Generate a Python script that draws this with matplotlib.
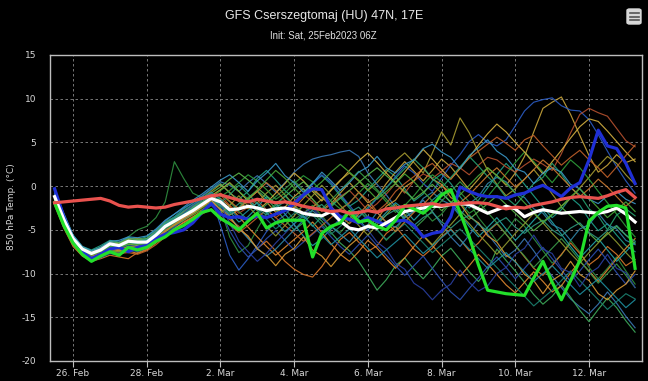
import matplotlib
matplotlib.use("Agg")
import matplotlib.pyplot as plt
from matplotlib.patches import FancyBboxPatch
import pandas as pd

# ---------------- data ----------------
title = "GFS Cserszegtomaj (HU) 47N, 17E"
subtitle = "Init: Sat, 25Feb2023 06Z"
ylabel = "850 hPa Temp. (°C)"
times = pd.date_range("2023-02-25 12:00", periods=64, freq="6h")
xtick_dates = pd.date_range("2023-02-26", "2023-03-12", freq="2D")
xtick_labels = ["26. Feb", "28. Feb", "2. Mar", "4. Mar", "6. Mar", "8. Mar", "10. Mar", "12. Mar"]
yticks = [-20, -15, -10, -5, 0, 5, 10, 15]

climate = [-1.9, -1.8, -1.7, -1.6, -1.5, -1.4, -1.7, -2.2, -2.4, -2.3, -2.4, -2.5, -2.4, -2.1, -1.9, -1.7,
           -1.4, -1.1, -1.0, -1.3, -1.6, -1.8, -1.5, -1.7, -1.9, -1.8, -2.0, -2.3, -2.5, -2.7, -2.9, -2.8,
           -3.1, -3.0, -2.8, -3.0, -2.6, -2.5, -2.3, -2.2, -2.1, -2.0, -2.2, -2.1, -2.0, -1.9, -1.9, -2.0,
           -2.3, -2.6, -2.4, -2.5, -2.2, -2.0, -1.8, -1.5, -1.3, -1.2, -1.3, -1.4, -1.1, -0.7, -0.4, -1.3]

ens_mean = [-1.2, -3.8, -6.0, -7.2, -7.7, -7.3, -6.6, -6.8, -6.3, -6.4, -6.4, -5.6, -4.6, -4.0, -3.4, -2.8,
            -2.1, -1.4, -1.8, -2.7, -2.6, -2.3, -2.5, -2.8, -2.6, -2.5, -2.7, -3.1, -3.3, -3.4, -2.9, -4.0,
            -4.8, -5.0, -4.6, -4.8, -4.2, -3.6, -2.9, -2.7, -2.5, -2.3, -2.3, -2.1, -2.0, -2.1, -2.6, -3.1,
            -2.7, -2.3, -2.6, -3.5, -3.0, -2.7, -2.9, -3.1, -3.0, -2.9, -3.0, -3.1, -2.9, -2.5, -3.2, -4.1]

control = [-1.9, -4.5, -6.5, -7.8, -8.6, -8.0, -7.5, -7.9, -7.0, -7.3, -7.0, -6.3, -5.8, -5.0, -4.5, -3.8,
           -3.0, -2.7, -3.7, -4.3, -5.0, -4.0, -3.1, -4.8, -4.2, -3.9, -3.9, -3.9, -8.1, -5.4, -4.6, -4.2,
           -2.9, -4.1, -3.9, -4.6, -5.0, -3.9, -2.2, -2.6, -3.1, -2.2, -1.0, -0.4, -3.0, -5.8, -9.0, -11.9,
           -12.1, -12.3, -12.4, -12.5, -10.5, -8.6, -11.0, -13.0, -10.8, -8.5, -4.0, -3.0, -2.3, -2.2, -2.5, -9.4]

operational = [-0.3, -3.5, -6.2, -7.5, -8.3, -7.8, -7.2, -7.0, -7.5, -7.0, -6.8, -6.0, -5.5, -5.3, -5.0, -4.2,
               -3.0, -2.0, -3.2, -3.6, -3.5, -3.8, -3.4, -3.6, -3.2, -2.8, -2.0, -1.0, -0.3, -0.4, -2.5, -3.5,
               -3.8, -4.2, -3.6, -4.0, -4.5, -4.0, -3.9, -4.5, -5.8, -5.4, -5.2, -3.5, -0.1, -0.6, -1.0, -1.2,
               -1.2, -1.4, -1.0, -0.8, -0.3, 0.1, -0.5, -1.2, -0.2, 0.4, 3.0, 6.4, 4.6, 4.3, 2.6, 0.3]

member_01 = [-1.4, -4.0, -6.2, -7.3, -7.8, -7.2, -6.9, -6.5, -5.8, -5.0, -4.6, -3.6, -1.8, 2.8, 0.9, -0.8,
             -1.3, -0.9, -2.5, -5.8, -7.6, -6.8, -4.9, -3.1, -2.0, -2.6, -3.8, -3.1, -2.2, -3.4, -4.6, -5.3,
             -4.1, -2.9, -3.6, -5.0, -6.2, -5.1, -3.4, -2.1, -2.8, -4.0, -3.2, -1.9, -0.7, -1.8, -3.6, -4.9,
             -6.3, -5.2, -3.7, -4.6, -6.0, -7.4, -8.8, -7.9, -6.2, -7.5, -9.3, -10.6, -9.4, -8.1, -9.7, -11.2]
member_02 = [-0.8, -3.2, -5.6, -6.9, -7.3, -6.8, -6.2, -6.4, -5.9, -6.1, -5.8, -5.0, -4.1, -3.5, -2.6, -1.9,
             -1.2, -0.4, 0.3, -0.8, -1.5, -0.6, 0.9, 1.8, 0.7, -0.5, -1.4, -0.9, 0.4, 1.2, 0.2, -1.1,
             -2.3, -1.6, -0.4, 0.8, 1.9, 1.1, -0.3, -1.7, -0.9, 0.6, 1.4, 0.3, -1.2, -2.5, -1.6, -0.2,
             1.3, 2.6, 1.5, 0.2, -1.1, -2.4, -3.6, -2.7, -1.3, -2.2, -3.8, -5.1, -4.3, -5.6, -6.8, -7.5]
member_03 = [-1.6, -4.1, -6.4, -7.6, -8.1, -7.7, -7.1, -7.3, -6.9, -7.2, -6.8, -6.1, -5.0, -4.5, -3.9, -3.1,
             -2.4, -1.8, -2.6, -3.3, -2.7, -1.5, -0.6, -1.8, -3.0, -2.4, -1.2, -0.3, -1.5, -2.7, -2.0, -0.8,
             0.4, -0.7, -1.9, -1.2, 0.3, 1.6, 2.8, 1.7, 0.6, 1.8, 3.1, 2.2, 0.9, -0.4, 0.8, 2.1,
             1.2, 0.1, 1.5, 3.4, 6.2, 8.9, 9.6, 10.2, 8.2, 5.8, 3.5, 1.6, 2.4, 3.6, 2.7, 3.1]
member_04 = [-0.5, -3.4, -6.1, -7.7, -8.4, -8.0, -7.4, -7.6, -7.0, -6.8, -6.5, -5.8, -5.1, -4.3, -3.6, -2.7,
             -1.8, -1.2, -4.5, -7.9, -9.6, -8.3, -6.8, -5.2, -4.1, -3.3, -2.1, -1.0, 0.2, 1.3, 0.4, -0.9,
             -2.2, -3.5, -2.6, -1.4, -0.2, 1.1, 2.3, 1.5, 0.3, -0.6, 0.9, 2.4, 3.6, 5.1, 5.9, 5.0,
             4.6, 5.3, 6.9, 8.6, 9.6, 9.9, 10.1, 9.2, 8.7, 8.6, 7.6, 5.9, 4.0, 2.2, 0.6, -0.8]
member_05 = [-2.2, -4.8, -6.9, -8.0, -8.6, -8.3, -7.9, -8.1, -8.3, -7.6, -7.2, -6.4, -5.5, -4.9, -4.1, -3.5,
             -2.9, -2.2, -3.0, -3.8, -4.6, -5.9, -7.1, -6.3, -7.4, -8.6, -9.5, -10.1, -10.4, -9.2, -7.6, -6.1,
             -5.3, -6.4, -7.5, -6.8, -5.4, -4.6, -5.9, -7.2, -8.0, -7.1, -5.8, -4.9, -6.1, -7.4, -6.5, -5.2,
             -4.3, -5.5, -6.8, -8.1, -9.4, -10.2, -9.1, -7.8, -6.5, -7.7, -9.0, -8.2, -6.9, -7.8, -9.1, -8.4]
member_06 = [-1.3, -3.9, -6.1, -7.1, -7.6, -7.0, -6.5, -6.9, -6.2, -6.6, -6.9, -6.0, -4.9, -4.2, -3.3, -2.6,
             -1.9, -1.3, -1.0, -2.2, -3.1, -2.4, -1.6, -2.7, -3.6, -2.8, -1.7, -0.9, -1.8, -2.9, -2.1, -1.2,
             -0.5, -1.6, -2.8, -2.0, -0.9, 0.3, -0.8, 0.6, 1.4, 0.9, 1.7, 2.6, 2.1, 1.3, 2.4, 3.3,
             3.0, 2.2, 1.6, 2.4, 3.1, 2.5, 1.8, 3.7, 6.1, 8.2, 8.9, 8.4, 8.0, 6.6, 5.2, 4.5]
member_07 = [-1.0, -3.6, -5.8, -7.0, -7.5, -7.2, -6.4, -6.6, -6.1, -6.0, -6.2, -5.3, -4.3, -3.7, -2.9, -2.2,
             -1.4, -0.6, 0.2, -0.7, -1.8, -2.6, -1.9, -0.8, 0.1, -1.0, -2.2, -3.1, -2.4, -1.5, -0.4, 0.7,
             1.5, 0.6, -0.5, 0.4, 1.6, 2.9, 3.8, 2.7, 1.5, 3.8, 6.2, 4.7, 7.8, 6.1, 3.9, 1.8,
             0.2, -1.1, -0.3, 0.8, 1.9, 0.6, -0.9, -2.3, -1.4, -0.2, 1.0, 2.3, 3.4, 2.6, 1.3, 0.2]
member_08 = [-0.6, -3.3, -5.7, -7.1, -7.6, -7.1, -6.5, -6.4, -5.9, -6.2, -6.0, -5.1, -4.0, -3.2, -2.5, -1.9,
             -1.1, -0.3, 0.5, 0.1, -0.6, 0.4, 1.2, 0.3, -0.7, 0.4, 1.6, 2.5, 3.1, 3.4, 3.6, 3.9,
             4.1, 3.4, 1.5, 0.2, -1.0, -2.4, -3.6, -2.8, -1.6, -2.9, -4.4, -5.8, -6.9, -5.6, -4.2, -5.5,
             -6.8, -8.1, -7.3, -6.0, -7.4, -8.9, -10.3, -11.6, -12.9, -13.8, -14.6, -13.5, -12.1, -13.4, -14.9, -16.2]
member_09 = [-1.8, -4.4, -6.6, -7.6, -8.0, -7.6, -7.0, -7.2, -6.7, -6.9, -6.7, -5.9, -4.8, -4.1, -3.3, -2.6,
             -2.0, -1.5, -2.3, -3.1, -2.4, -1.3, -0.5, -1.4, -2.6, -3.9, -5.0, -4.2, -3.1, -4.0, -5.3, -6.5,
             -7.4, -8.6, -10.2, -11.9, -10.7, -9.1, -8.2, -9.5, -10.6, -9.4, -8.0, -7.1, -8.4, -9.8, -10.9, -9.6,
             -7.2, -8.5, -9.7, -11.0, -12.4, -13.5, -12.6, -11.3, -12.7, -14.2, -15.5, -14.1, -12.8, -13.9, -15.4, -16.7]
member_10 = [-1.1, -3.7, -6.0, -7.3, -7.9, -7.4, -6.8, -6.7, -6.4, -6.3, -6.1, -5.4, -4.4, -3.8, -3.1, -2.4,
             -1.6, -1.0, -1.7, -2.9, -4.1, -3.5, -2.4, -1.2, -2.0, -3.2, -4.4, -5.7, -6.8, -6.0, -4.9, -3.7,
             -2.9, -3.8, -5.0, -4.1, -3.0, -1.9, -2.7, -3.9, -2.8, -1.6, -0.7, -1.9, -3.2, -4.6, -5.8, -4.7,
             -3.6, -4.9, -6.2, -5.1, -3.9, -2.8, -4.1, -5.5, -6.9, -8.2, -7.1, -6.0, -7.3, -8.6, -7.5, -6.4]
member_11 = [-1.5, -4.0, -6.3, -7.5, -8.2, -7.8, -7.3, -7.5, -7.0, -7.1, -6.9, -6.2, -5.3, -4.6, -3.8, -3.2,
             -2.5, -1.9, -1.2, -0.5, 0.4, 1.3, 0.6, -0.4, -1.5, -0.8, 0.3, 1.2, 0.5, -0.6, -1.7, -2.6,
             -1.9, -0.8, 0.3, -0.6, -1.8, -3.0, -2.2, -1.1, 0.2, 1.3, 0.5, -0.6, -1.9, -3.1, -2.4, -1.2,
             0.1, 1.4, 2.7, 3.9, 2.8, 1.6, 0.4, 1.7, 3.0, 2.1, 0.8, -0.6, -1.9, -3.2, -4.6, -5.8]
member_12 = [-1.9, -4.5, -6.7, -7.7, -8.3, -7.9, -7.6, -7.8, -7.4, -7.7, -7.3, -6.5, -5.6, -4.8, -4.2, -3.6,
             -2.8, -2.1, -1.4, -2.3, -3.5, -4.7, -5.8, -6.9, -7.9, -7.0, -6.1, -5.2, -4.1, -5.3, -6.6, -7.8,
             -8.6, -7.5, -6.2, -7.1, -8.3, -9.4, -8.2, -6.9, -5.7, -6.8, -8.0, -9.2, -10.3, -9.1, -7.8, -8.9,
             -10.1, -11.3, -12.2, -11.0, -9.8, -10.9, -12.1, -11.4, -9.9, -8.6, -9.7, -10.9, -9.6, -8.3, -7.1, -6.0]
member_13 = [-0.9, -3.6, -6.2, -7.8, -8.6, -8.2, -7.7, -7.9, -7.3, -7.5, -7.1, -6.4, -5.5, -4.7, -3.9, -3.0,
             -2.2, -1.4, -2.8, -5.1, -6.9, -8.1, -7.2, -6.0, -5.1, -6.2, -7.3, -6.4, -5.5, -4.6, -5.8, -6.9,
             -7.8, -6.7, -5.6, -6.8, -7.9, -9.1, -10.2, -9.1, -8.0, -9.4, -10.8, -12.1, -13.0, -11.7, -10.5, -9.2,
             -8.1, -9.3, -10.6, -9.4, -8.2, -7.0, -8.3, -9.6, -10.9, -9.7, -8.4, -7.2, -8.5, -9.9, -11.2, -10.1]
member_14 = [-1.3, -3.9, -6.1, -7.2, -7.8, -7.5, -6.8, -7.0, -6.6, -6.8, -6.7, -5.8, -4.7, -4.0, -3.3, -2.5,
             -1.8, -1.1, -0.4, 0.4, -0.6, -1.7, -2.8, -1.9, -0.8, 0.3, 1.5, 0.6, -0.6, -1.7, -0.5, 0.6,
             1.8, 2.9, 3.8, 2.7, 1.5, 0.4, 1.6, 2.9, 4.2, 3.1, 1.9, 0.8, 2.0, 3.3, 4.7, 6.0,
             7.1, 6.2, 5.0, 3.9, 2.6, 1.4, 2.8, 4.1, 5.5, 6.8, 7.7, 7.4, 6.3, 5.1, 3.9, 2.8]
member_15 = [-1.7, -4.3, -6.5, -7.5, -7.9, -7.4, -6.8, -7.1, -6.5, -6.5, -6.6, -5.8, -4.9, -4.3, -3.6, -3.0,
             -2.3, -1.7, -2.4, -3.2, -2.5, -1.6, -2.7, -3.8, -4.9, -4.0, -3.1, -2.2, -3.3, -4.4, -5.5, -4.6,
             -3.7, -2.8, -3.9, -5.0, -6.1, -5.2, -4.3, -5.4, -6.5, -7.6, -6.7, -5.8, -4.9, -6.0, -7.1, -8.2,
             -9.3, -10.4, -11.5, -12.6, -13.7, -12.8, -11.9, -10.8, -9.7, -10.8, -11.9, -13.0, -14.1, -13.2, -12.3, -12.9]
member_16 = [-1.2, -3.7, -5.9, -7.0, -7.4, -7.0, -6.3, -6.5, -6.0, -6.1, -6.0, -5.2, -4.2, -3.6, -3.0, -2.3,
             -1.5, -0.8, -0.1, 0.8, 1.5, 0.7, -0.2, -1.1, -2.0, -1.2, -0.3, 0.5, -0.4, -1.3, -2.2, -1.4,
             -0.5, 0.4, 1.3, 2.1, 1.2, 0.3, -0.6, -1.5, -0.7, 0.2, -0.8, -1.8, -2.8, -3.8, -2.9, -2.0,
             -1.1, -2.1, -3.1, -4.1, -5.1, -4.2, -3.3, -2.4, -3.4, -4.4, -5.4, -6.4, -5.5, -4.6, -5.6, -6.6]
member_17 = [-2.0, -4.6, -6.8, -7.9, -8.5, -8.1, -7.5, -7.7, -7.6, -7.8, -7.4, -6.7, -5.8, -5.0, -4.4, -3.8,
             -3.2, -2.6, -3.5, -4.4, -5.3, -4.5, -3.6, -2.7, -3.6, -4.5, -5.4, -6.3, -5.4, -4.5, -3.6, -2.7,
             -1.9, -0.7, -1.6, -2.9, -2.0, -0.6, 0.3, 1.1, 2.0, 2.6, 1.5, 0.8, 2.1, 3.2, 4.0, 4.8,
             5.6, 4.9, 4.1, 5.3, 5.8, 4.6, 3.5, 2.4, 3.3, 4.1, 3.0, 2.1, 1.0, 2.2, 3.5, 4.7]
member_18 = [-0.7, -3.4, -5.9, -7.2, -7.7, -7.3, -6.7, -6.9, -6.4, -6.6, -6.3, -5.6, -4.6, -3.9, -3.2, -2.6,
             -1.9, -1.3, -2.1, -3.4, -4.8, -6.0, -7.1, -8.0, -7.2, -6.1, -5.0, -3.9, -2.8, -3.7, -4.6, -5.5,
             -6.4, -5.1, -4.4, -3.0, -4.2, -4.7, -3.6, -2.9, -1.4, -0.7, -1.6, -2.1, -3.4, -2.0, -1.2, 0.3,
             1.0, 0.5, -0.8, -1.3, -2.6, -3.1, -4.4, -4.9, -6.2, -4.9, -4.4, -3.1, -4.4, -4.9, -6.2, -6.7]
member_19 = [-1.4, -4.1, -6.4, -7.5, -7.9, -7.3, -6.7, -6.8, -6.2, -6.2, -6.3, -5.5, -4.6, -4.1, -3.6, -2.9,
             -2.1, -1.5, -0.9, -1.8, -2.9, -3.9, -3.0, -2.1, -1.2, -0.3, 0.6, -0.4, -1.5, -2.6, -1.6, -0.5,
             0.6, 1.7, 0.7, -0.4, -1.5, -2.7, -3.8, -4.9, -3.9, -2.8, -1.7, -0.6, 0.5, -0.6, -1.8, -3.0,
             -4.2, -5.5, -6.8, -8.0, -9.3, -8.2, -7.1, -6.0, -7.2, -8.5, -9.8, -11.1, -10.0, -8.9, -10.2, -11.6]
member_20 = [-1.6, -4.3, -6.6, -7.8, -8.2, -7.8, -7.2, -7.4, -7.1, -7.3, -7.0, -6.3, -5.2, -4.4, -3.7, -3.1,
             -2.4, -1.6, -2.7, -3.5, -4.9, -5.7, -7.2, -7.9, -9.1, -7.8, -7.1, -5.8, -7.3, -8.0, -9.2, -7.9,
             -6.8, -5.9, -4.5, -3.8, -2.3, -1.6, -0.1, 0.6, 2.1, 0.8, 0.2, -1.3, -2.0, -3.5, -4.2, -5.7,
             -6.4, -7.9, -8.6, -10.1, -10.8, -12.3, -10.8, -10.1, -8.6, -10.1, -10.8, -12.3, -13.0, -11.9, -11.2, -9.7]
member_21 = [-1.0, -3.7, -6.1, -7.5, -8.1, -7.6, -7.0, -7.2, -6.8, -6.9, -6.5, -5.7, -4.6, -3.9, -3.1, -2.2,
             -1.5, -0.9, -2.1, -4.2, -6.3, -7.5, -8.6, -7.7, -6.5, -5.4, -4.3, -3.1, -2.5, -3.6, -4.7, -3.8,
             -2.9, -4.1, -5.0, -6.4, -7.2, -8.8, -9.5, -11.1, -11.8, -13.0, -11.9, -11.2, -9.6, -11.0, -12.0, -11.4,
             -10.0, -9.3, -7.8, -7.1, -5.6, -7.2, -7.7, -9.4, -9.9, -11.5, -10.0, -9.3, -7.8, -9.4, -9.9, -11.6]
member_22 = [-1.3, -3.9, -6.2, -7.3, -7.7, -7.3, -6.6, -6.8, -6.3, -6.5, -6.3, -5.5, -4.5, -3.8, -3.2, -2.5,
             -1.8, -1.2, -1.9, -1.0, 0.1, -0.9, -2.0, -3.1, -2.2, -1.1, -2.3, -3.4, -4.6, -3.5, -2.4, -1.3,
             -2.5, -3.6, -2.4, -1.3, -0.2, 0.9, 2.0, 3.1, 2.1, 0.9, -0.2, 1.0, 2.2, 3.4, 2.3, 1.1,
             0.1, -1.3, -2.2, -1.0, 0.3, 1.0, 2.6, 1.4, -0.2, -1.0, -2.6, -3.4, -5.0, -3.3, -2.6, -3.4]
member_23 = [-1.8, -4.4, -6.5, -7.6, -8.2, -7.9, -7.4, -7.5, -7.0, -7.0, -6.8, -6.0, -5.1, -4.5, -3.9, -3.3,
             -2.7, -2.0, -3.1, -2.2, -1.1, -2.3, -3.4, -4.6, -5.7, -4.5, -3.4, -2.2, -1.1, 0.1, -1.0, -2.2,
             -3.3, -4.5, -5.6, -4.4, -3.3, -2.1, -3.3, -4.4, -5.6, -6.7, -5.5, -4.4, -3.2, -4.3, -5.5, -6.6,
             -7.8, -6.6, -5.4, -4.3, -3.1, -4.2, -5.4, -6.5, -7.7, -8.8, -7.6, -6.5, -5.3, -6.4, -7.6, -8.7]
member_24 = [-0.4, -3.1, -5.6, -6.9, -7.4, -7.0, -6.3, -6.2, -5.8, -5.9, -5.7, -4.9, -3.9, -3.2, -2.4, -1.6,
             -0.9, -0.1, 0.7, 1.3, 0.4, -0.6, 0.6, 1.5, 2.6, 1.2, 0.4, -0.7, 0.3, 1.6, 0.6, -0.5,
             0.4, 1.6, 2.2, 3.4, 2.1, 1.5, 2.5, 3.0, 4.3, 4.8, 3.9, 3.3, 2.0, 3.5, 4.4, 5.3,
             4.0, 3.3, 2.0, 1.6, 0.3, 1.5, 2.1, 1.6, 0.2, -0.3, -1.5, -2.0, -1.1, -0.6, -1.5, -2.0]
member_25 = [-1.1, -3.8, -6.1, -7.3, -7.8, -7.4, -6.9, -7.0, -6.5, -6.6, -6.4, -5.6, -4.7, -4.0, -3.3, -2.6,
             -1.9, -1.4, -2.2, -2.9, -2.0, -1.4, -2.6, -3.3, -2.4, -1.8, -2.9, -3.6, -2.7, -2.1, -3.2, -3.9,
             -3.0, -2.4, -3.5, -4.2, -3.3, -2.7, -3.8, -4.5, -3.6, -3.0, -4.1, -4.8, -3.9, -3.3, -4.4, -5.1,
             -4.2, -3.6, -4.7, -5.4, -4.5, -3.9, -5.0, -5.7, -4.8, -4.2, -5.3, -6.0, -5.1, -4.5, -5.6, -6.3]
member_26 = [-1.5, -4.2, -6.4, -7.6, -8.0, -7.7, -7.1, -7.3, -6.9, -7.0, -6.9, -6.1, -5.1, -4.4, -3.6, -2.9,
             -2.2, -1.6, -0.8, -1.7, -2.6, -1.5, -0.6, 0.4, -0.5, -1.6, -2.5, -1.4, -0.3, -1.2, -2.3, -3.4,
             -4.3, -3.2, -2.1, -3.0, -4.1, -5.2, -4.1, -3.0, -2.1, -1.0, 0.1, -0.8, -1.9, -1.0, 0.1, 1.2,
             2.1, 1.0, -0.1, 0.8, 1.9, 3.0, 2.1, 1.0, -0.1, -1.2, -0.3, 0.8, -0.1, -1.2, -2.3, -1.4]
member_27 = [-0.9, -3.5, -5.9, -7.1, -7.6, -7.2, -6.6, -6.7, -6.2, -6.4, -6.2, -5.3, -4.3, -3.6, -2.8, -2.1,
             -1.4, -0.7, -1.5, -2.6, -3.7, -2.8, -1.9, -3.0, -4.1, -5.2, -4.3, -3.4, -4.5, -5.6, -6.7, -5.8,
             -4.9, -6.0, -7.1, -8.2, -7.3, -6.4, -5.5, -6.6, -7.7, -6.8, -5.9, -5.0, -6.1, -7.2, -8.3, -9.4,
             -8.5, -7.6, -8.7, -9.8, -10.9, -10.0, -9.1, -10.2, -11.3, -12.4, -11.5, -10.6, -11.7, -12.8, -13.9, -13.0]
member_28 = [-1.6, -4.1, -6.2, -7.4, -7.9, -7.5, -6.9, -7.0, -6.6, -6.7, -6.6, -5.8, -4.8, -4.2, -3.5, -2.8,
             -2.0, -1.3, -0.5, 0.3, -0.6, -1.5, -0.4, 0.7, 1.8, 0.9, -0.2, -1.3, -0.4, 0.5, 1.6, 2.5,
             1.6, 0.7, -0.4, -1.5, -0.6, 0.3, 1.4, 0.5, -0.6, -1.7, -2.8, -1.9, -1.0, 0.1, 1.2, 2.1,
             1.2, 0.3, -0.8, -1.9, -3.0, -4.1, -3.2, -2.3, -1.2, -0.3, -1.4, -2.5, -3.6, -2.7, -1.8, -2.9]

members = [member_01, member_02, member_03, member_04, member_05, member_06, member_07,
           member_08, member_09, member_10, member_11, member_12, member_13, member_14,
           member_15, member_16, member_17, member_18, member_19, member_20, member_21,
           member_22, member_23, member_24, member_25, member_26, member_27, member_28]
member_colors = ["#2f8f3f", "#1fa08a", "#c9a53a", "#2b5cc4", "#d9782b", "#b5502e", "#a59a30",
                 "#3a78b5", "#3daa5a", "#22a3a8", "#2e9e3a", "#e08a30", "#2c4fb0", "#d4b040",
                 "#1b8070", "#5bb84a", "#c0602a", "#2f86a8", "#3a9a48", "#d89a35", "#2a3fa0",
                 "#25a070", "#8f9a30", "#3a98c8", "#2f9a80", "#cc7a30", "#1e8fa0", "#48a838"]

# ---------------- figure ----------------
W, H = 648, 381
fig = plt.figure(figsize=(W / 100, H / 100), dpi=100, facecolor="black")
ax = fig.add_axes([50 / W, 1 - 361 / H, (642 - 50) / W, (361 - 55) / H], facecolor="black")

for vals, col in zip(members, member_colors):
    ax.plot(times, vals, color=col, lw=0.85, alpha=0.9, zorder=2)

ax.plot(times, operational, color="#1f2fd6", lw=2.3, zorder=3)
ax.plot(times, ens_mean, color="white", lw=2.3, zorder=4)
ax.plot(times, control, color="#22e02a", lw=2.3, zorder=5)
ax.plot(times, climate, color="#e9524e", lw=2.3, zorder=6)

ax.set_ylim(-20, 15)
ax.set_xlim(pd.Timestamp("2023-02-25 09:00"), pd.Timestamp("2023-03-13 10:30"))
ax.set_yticks(yticks)
ax.set_yticklabels([str(v) for v in yticks])
ax.set_xticks(xtick_dates)
ax.set_xticklabels(xtick_labels)

ax.grid(True, color="#8a8a8a", lw=0.6, ls=(0, (3, 3)), zorder=1)
for s in ax.spines.values():
    s.set_color("#bdbdbd")
    s.set_linewidth(1.0)
ax.tick_params(axis="y", length=0, pad=10, labelsize=6.5, labelcolor="#d8d8d8")
ax.tick_params(axis="x", length=4, width=0.8, color="#bdbdbd", pad=2,
               labelsize=6.5, labelcolor="#d8d8d8")
for lab in ax.get_yticklabels():
    lab.set_horizontalalignment("right")

fig.text(12 / W, 1 - 207 / H, ylabel, rotation=90, color="#d8d8d8", fontsize=6.5,
         ha="center", va="center")
fig.text(324 / W, 1 - 16 / H, title, color="#e8e8e8", fontsize=9, ha="center", va="center",
         family="Liberation Sans")
fig.text(323 / W, 1 - 36 / H, subtitle, color="#e0e0e0", fontsize=7, ha="center", va="center",
         family="Liberation Sans")

# menu icon (top right)
icon = FancyBboxPatch((627 / W, 1 - 24 / H), 14 / W, 15 / H,
                      boxstyle="round,pad=0,rounding_size=0.004",
                      transform=fig.transFigure, facecolor="#d8d8d8", edgecolor="#d8d8d8")
fig.patches.append(icon)
for yy in (13, 16.5, 20):
    fig.add_artist(plt.Line2D([629.5 / W, 638.5 / W], [1 - yy / H, 1 - yy / H],
                              transform=fig.transFigure, color="#555555", lw=1.2))

fig.savefig("out.png", dpi=100, facecolor="black")
